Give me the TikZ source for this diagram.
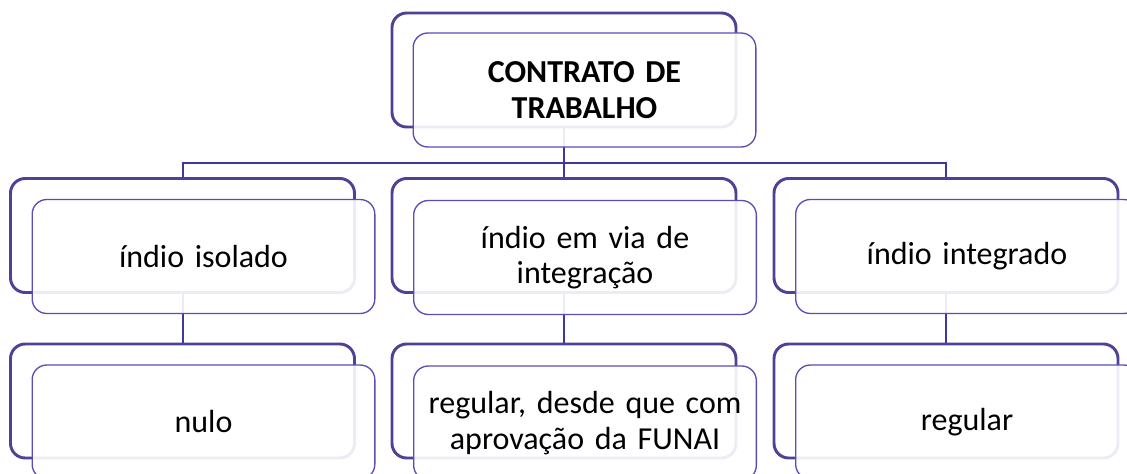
\documentclass[tikz,border=0pt]{standalone}
\usepackage{fontspec}
\setmainfont[WordSpace=0.85]{Carlito}
\usepackage{tikz}

\definecolor{backc}{RGB}{76,66,150}
\definecolor{frontc}{RGB}{88,78,182}
\definecolor{linkc}{RGB}{64,54,160}

\begin{document}
\begin{tikzpicture}[x=0.75pt,y=0.75pt,yscale=-1,xscale=1,
    backbox/.style={draw=backc,line width=2.2pt,rounded corners=11pt,fill=white,minimum width=258pt,minimum height=85.5pt,inner sep=0pt},
    frontbox/.style={draw=frontc,line width=1pt,rounded corners=11pt,fill=white,fill opacity=0.9,text opacity=1,minimum width=257pt,minimum height=85.5pt,inner sep=0pt,text width=240pt,align=center,font=\fontsize{24}{26.5}\selectfont},
    link/.style={draw=linkc,line width=1.5pt}]
        \useasboundingbox (0,0) rectangle (1127,474);
        \clip (0,0) rectangle (1127,474);

        %Shape: back boxes
        \node [backbox] (contratoB) at (564,70) {};
        \node [backbox] (isoladoB) at (182.5,235.5) {};
        \node [backbox] (viaB) at (564,235.5) {};
        \node [backbox] (integradoB) at (946,235.5) {};
        \node [backbox] (nuloB) at (182.5,401) {};
        \node [backbox] (funaiB) at (564,401) {};
        \node [backbox] (regularB) at (946,401) {};

        %Straight Lines: connectors
        \coordinate (bus) at (564,163);
        \draw [link] (contratoB.south) -- (bus);
        \draw [link] (bus) -| (isoladoB.north);
        \draw [link] (bus) -- (viaB.north);
        \draw [link] (bus) -| (integradoB.north);
        \draw [link] (isoladoB.south) -- (nuloB.north);
        \draw [link] (viaB.south) -- (funaiB.north);
        \draw [link] (integradoB.south) -- (regularB.north);

        % Text Node
        \node [frontbox] (contrato) at (584.5,90) {\textbf{CONTRATO DE}\\\textbf{TRABALHO}};
        % Text Node
        \node [frontbox] (isolado) at (203.5,256.5) {índio isolado};
        % Text Node
        \node [frontbox] (via) at (585,257.5) {índio em via de\\integração};
        % Text Node
        \node [frontbox] (integrado) at (967,256.5) {índio integrado};
        % Text Node
        \node [frontbox] (nulo) at (203.5,422) {nulo};
        % Text Node
        \node [frontbox] (funai) at (585,423) {regular, desde que com\\aprovação da FUNAI};
        % Text Node
        \node [frontbox] (regular) at (967,422) {regular};

\end{tikzpicture}
\end{document}
